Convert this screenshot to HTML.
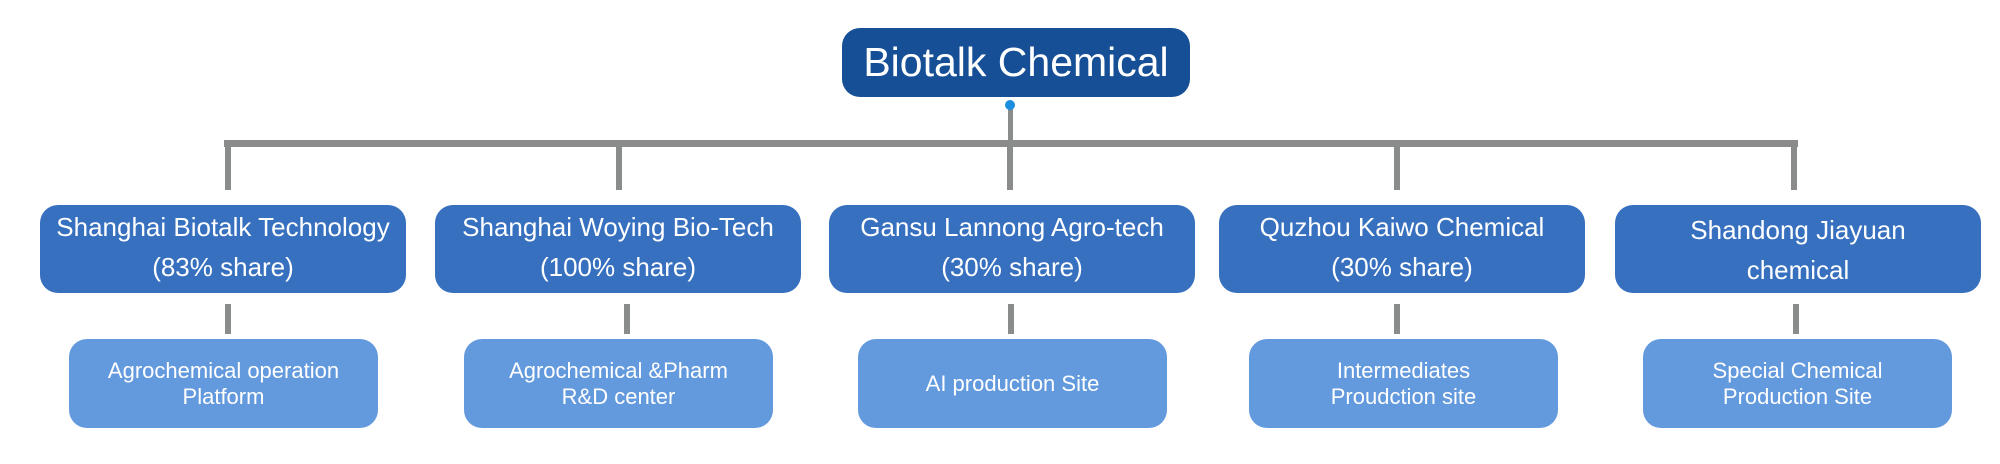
<!DOCTYPE html>
<html><head><meta charset="utf-8"><style>
body{margin:0;width:2000px;height:464px;background:#fff;position:relative;overflow:hidden;font-family:"Liberation Sans",sans-serif;}
.b{position:absolute;color:#fff;text-align:center;display:flex;align-items:center;justify-content:center;box-sizing:border-box;}
.t{background:#174f97;border-radius:18px;font-size:41px;}
.m{background:#3670bf;border-radius:18px;font-size:26px;line-height:40px;top:205px;height:88px;width:366px;padding-bottom:4px}
.l{background:#6399dd;border-radius:18px;font-size:22px;line-height:26px;top:339px;height:89px;width:309px;}
.g{position:absolute;background:#8a8c8c;}
</style></head><body>
<div class="b t" style="left:842px;top:28px;width:348px;height:69px;">Biotalk Chemical</div>
<div class="g" style="left:1008px;top:105px;width:5px;height:38px"></div>
<div style="position:absolute;left:1005px;top:100px;width:10px;height:10px;border-radius:50%;background:#1a8fe0"></div>
<div class="g" style="left:224px;top:140px;width:1574px;height:7px"></div>
<div class="g" style="left:225px;top:140px;width:6px;height:50px"></div>
<div class="g" style="left:616px;top:140px;width:6px;height:50px"></div>
<div class="g" style="left:1007px;top:140px;width:6px;height:50px"></div>
<div class="g" style="left:1394px;top:140px;width:6px;height:50px"></div>
<div class="g" style="left:1791px;top:140px;width:6px;height:50px"></div>

<div class="b m" style="left:40px">Shanghai Biotalk Technology<br>(83% share)</div>
<div class="b m" style="left:435px">Shanghai Woying Bio-Tech<br>(100% share)</div>
<div class="b m" style="left:829px">Gansu Lannong Agro-tech<br>(30% share)</div>
<div class="b m" style="left:1219px">Quzhou Kaiwo Chemical<br>(30% share)</div>
<div class="b m" style="left:1615px;padding-top:6px">Shandong Jiayuan<br>chemical</div>

<div class="g" style="left:225px;top:304px;width:6px;height:30px"></div>
<div class="g" style="left:624px;top:304px;width:6px;height:30px"></div>
<div class="g" style="left:1008px;top:304px;width:6px;height:30px"></div>
<div class="g" style="left:1394px;top:304px;width:6px;height:30px"></div>
<div class="g" style="left:1793px;top:304px;width:6px;height:30px"></div>

<div class="b l" style="left:69px">Agrochemical operation<br>Platform</div>
<div class="b l" style="left:464px">Agrochemical &amp;Pharm<br>R&amp;D center</div>
<div class="b l" style="left:858px">AI production Site</div>
<div class="b l" style="left:1249px">Intermediates<br>Proudction site</div>
<div class="b l" style="left:1643px">Special Chemical<br>Production Site</div>
</body></html>
